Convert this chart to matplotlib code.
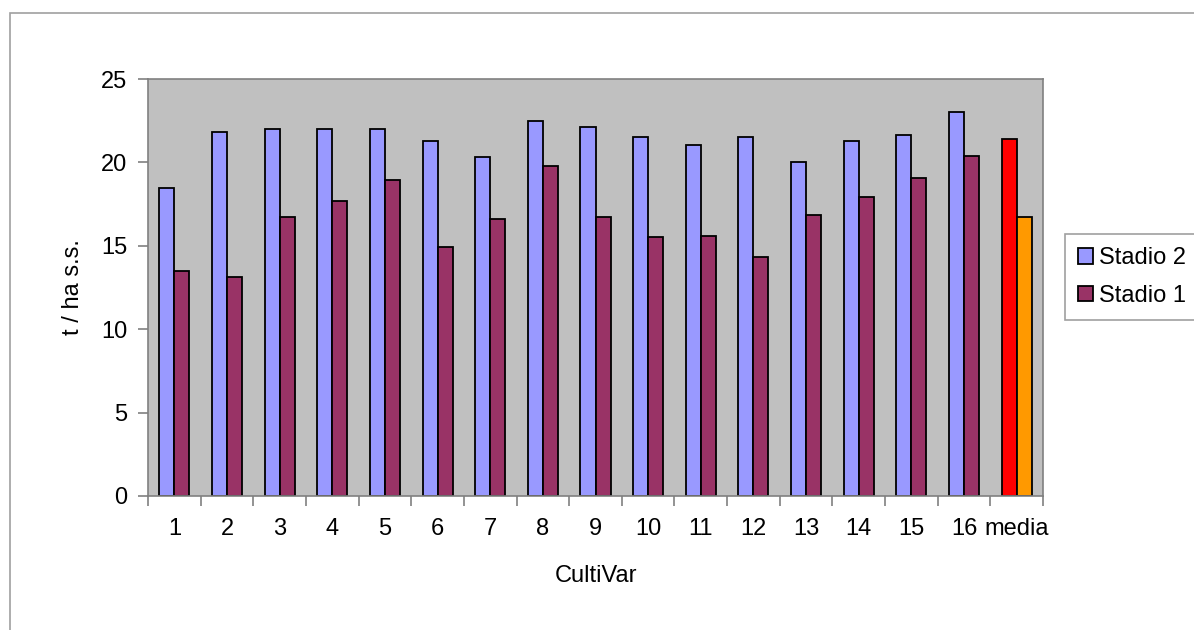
import numpy as np
import matplotlib.pyplot as plt
from matplotlib.patches import Rectangle

plt.rcParams['font.family'] = ['Liberation Sans', 'DejaVu Sans']

cultivars = ['1', '2', '3', '4', '5', '6', '7', '8', '9', '10',
             '11', '12', '13', '14', '15', '16', 'media']
stadio2 = [18.45, 21.8, 22.0, 22.0, 22.0, 21.3, 20.3, 22.5, 22.15, 21.5,
           21.05, 21.5, 20.05, 21.3, 21.65, 23.0, 21.4]
stadio1 = [13.5, 13.1, 16.7, 17.7, 18.95, 14.95, 16.6, 19.8, 16.7, 15.5,
           15.6, 14.35, 16.85, 17.95, 19.05, 20.4, 16.7]

col2 = ['#9999FF'] * 16 + ['#FF0000']
col1 = ['#993366'] * 16 + ['#FF9900']

fig = plt.figure(figsize=(11.94, 6.3), dpi=100)
ax = fig.add_axes([148 / 1194, 1 - 496 / 630, (1043 - 148) / 1194, (496 - 79) / 630])

x = np.arange(len(cultivars))
w = 1 / 3.5  # Excel-style gap width 150%
b2 = ax.bar(x - w / 2, stadio2, w, color=col2, edgecolor='black', linewidth=1.3,
            label='Stadio 2')
b1 = ax.bar(x + w / 2, stadio1, w, color=col1, edgecolor='black', linewidth=1.3,
            label='Stadio 1')

ax.set_facecolor('#C0C0C0')
ax.set_xlim(-0.5, len(cultivars) - 0.5)
ax.set_ylim(0, 25)
ax.set_yticks([0, 5, 10, 15, 20, 25])
ax.set_xticks(x)
ax.set_xticklabels(cultivars)
ax.set_xticks(np.arange(len(cultivars) + 1) - 0.5, minor=True)
ax.tick_params(axis='x', which='major', length=0, pad=16, labelsize=17)
ax.tick_params(axis='x', which='minor', length=7, color='#808080', width=1.2)
ax.tick_params(axis='y', length=7, color='#808080', width=1.2, pad=8, labelsize=17)
for s in ax.spines.values():
    s.set_color('#808080')
    s.set_linewidth(1.2)

ax.set_ylabel('t / ha s.s.', fontsize=17, labelpad=12)
ax.set_xlabel('CultiVar', fontsize=17, labelpad=18)

leg = fig.legend(handles=[b2, b1], loc='center left',
                 bbox_to_anchor=(1065 / 1194, 1 - 277 / 630),
                 borderaxespad=0, fontsize=17, handlelength=0.62,
                 handleheight=0.62, handletextpad=0.25, labelspacing=0.65,
                 borderpad=0.55, fancybox=False, edgecolor='#A0A0A0',
                 framealpha=1)
leg.get_frame().set_linewidth(1.2)

# outer chart frame
fig.patches.append(Rectangle((10 / 1194, -0.1), 1.2, 1 - 13 / 630 + 0.1,
                             transform=fig.transFigure, fill=False,
                             edgecolor='#A0A0A0', linewidth=1.2))

fig.savefig('out.png', dpi=100)
